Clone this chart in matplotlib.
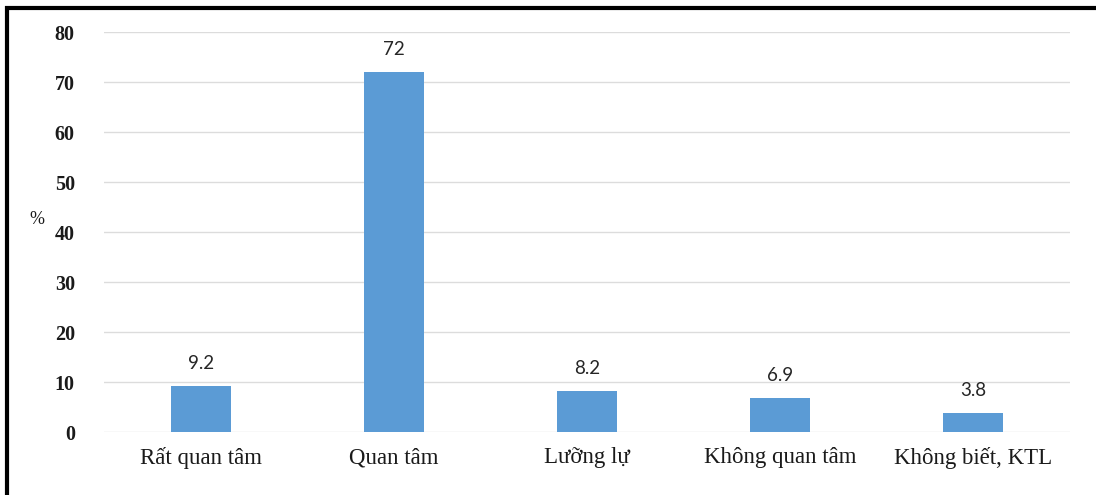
import matplotlib
matplotlib.use("Agg")
import matplotlib.pyplot as plt
from matplotlib.lines import Line2D

categories = ["Rất quan tâm", "Quan tâm", "Lưỡng lự", "Không quan tâm", "Không biết, KTL"]
values = [9.2, 72, 8.2, 6.9, 3.8]
value_labels = ["9.2", "72", "8.2", "6.9", "3.8"]
yticks = [0, 10, 20, 30, 40, 50, 60, 70, 80]

W, H = 1096, 495
fig = plt.figure(figsize=(W / 100, H / 100), dpi=100)
ax = fig.add_axes([104 / W, 1 - 432 / H, (1070 - 104) / W, (432 - 32) / H])

x = list(range(len(categories)))
ax.bar(x, values, width=0.31, color="#5B9BD5", zorder=3)
ax.set_xlim(-0.5, len(categories) - 0.5)
ax.set_ylim(0, 80)
ax.set_yticks(yticks)
ax.set_yticklabels([str(t) for t in yticks], family="Liberation Serif",
                   fontweight="bold", fontsize=14.5, color="#1a1a1a")
ax.set_xticks(x)
ax.set_xticklabels(categories, family="Liberation Serif", fontsize=16.5, color="#1a1a1a")
ax.tick_params(axis="y", length=0, pad=21)
ax.tick_params(axis="x", length=0, pad=11)
ax.grid(axis="y", color="#dcdcdc", linewidth=1.0, zorder=0)
for s in ax.spines.values():
    s.set_visible(False)

for xi, v, lab in zip(x, values, value_labels):
    ax.annotate(lab, (xi, v), xytext=(0, 10), textcoords="offset points",
                ha="center", va="bottom", family="Lato", fontsize=13.5, color="#262626")

fig.text(37 / W, 1 - 220 / H, "%", family="Liberation Serif", fontsize=13,
         ha="center", va="center", color="#1a1a1a")

# outer frame: top and left edges
fig.add_artist(Line2D([5 / W, 1], [1 - 7.5 / H, 1 - 7.5 / H], transform=fig.transFigure,
                      color="black", linewidth=3, solid_capstyle="butt"))
fig.add_artist(Line2D([7 / W, 7 / W], [1 - 6 / H, 0], transform=fig.transFigure,
                      color="black", linewidth=3, solid_capstyle="butt"))

fig.savefig("out.png", dpi=100)
